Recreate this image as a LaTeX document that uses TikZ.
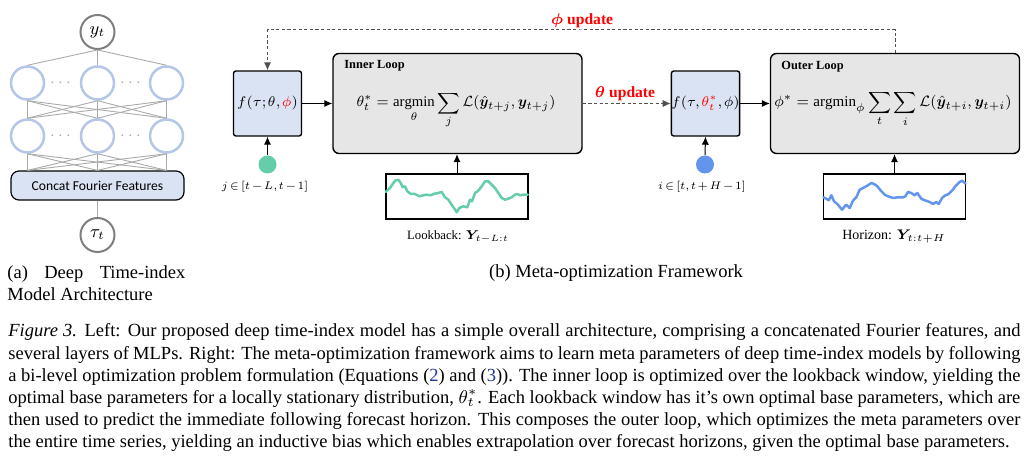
\documentclass[tikz,border=0pt]{standalone}
\usepackage{fix-cm}
\usepackage{amsmath}
\usepackage{graphicx}
\usepackage{fontspec}
\setmainfont{Liberation Serif}
\newfontfamily\calib{Carlito}
\usepackage{bm}
\usetikzlibrary{arrows.meta}
\definecolor{hidblue}{HTML}{B4C7E7}
\definecolor{boxblue}{HTML}{DAE3F3}
\definecolor{loopgray}{HTML}{E6E6E6}
\definecolor{iogray}{HTML}{7F7F7F}
\definecolor{netgray}{HTML}{AAAAAA}
\definecolor{greenc}{HTML}{66CDAA}
\definecolor{bluec}{HTML}{6495ED}
\definecolor{linkblue}{rgb}{0.12,0.2,0.6}
\definecolor{dashgray}{HTML}{505050}
\newcommand{\fs}[1]{\fontsize{#1}{1.2\dimexpr#1\relax}\selectfont}
\newcommand{\tightmath}{\thickmuskip=2.5mu\medmuskip=2mu\thinmuskip=1.5mu}
\begin{document}
\begin{tikzpicture}[x=0.5pt,y=-0.5pt,
  netline/.style={draw=netgray,line width=0.45pt},
  hid/.style={circle,draw=hidblue,line width=1.25pt,minimum size=16.5pt,inner sep=0pt},
  io/.style={circle,draw=iogray,line width=1pt,minimum size=17pt,inner sep=0pt,font=\fs{9pt}},
  dotsn/.style={text=gray!70,inner sep=0pt,font=\fs{7.5pt}},
  concat/.style={draw=black,fill=boxblue,line width=0.6pt,rounded corners=4pt,minimum width=86.5pt,minimum height=14.5pt,inner sep=0pt,font=\calib\fs{6.8pt}},
  fbox/.style={draw=black,fill=boxblue,line width=0.7pt,rounded corners=1.2pt,minimum width=34pt,minimum height=32.5pt,inner sep=0pt,font=\fs{7pt}\tightmath},
  loopbox/.style={draw=black,fill=loopgray,line width=0.7pt,rounded corners=3pt,minimum width=124.5pt,minimum height=50pt,inner sep=0pt},
  looptitle/.style={anchor=west,inner sep=0pt,font=\bfseries\fs{6.2pt}},
  eqn/.style={anchor=base,inner sep=0pt,font=\fs{8pt}},
  dotc/.style={circle,minimum size=9pt,inner sep=0pt},
  lbl/.style={inner sep=0pt,font=\fs{6pt}\tightmath},
  plotlbl/.style={inner sep=0pt,font=\fs{7pt}},
  plotbox/.style={draw=black,line width=0.6pt,minimum width=71pt,minimum height=22.5pt,inner sep=0pt},
  series/.style={line width=1.25pt,line join=round,line cap=round},
  arr/.style={-{Latex[length=4pt,width=3.6pt]},line width=0.5pt,draw=black},
  dasharr/.style={-{Latex[length=4pt,width=3.6pt]},line width=0.5pt,draw=dashgray,dash pattern=on 1.6pt off 1.2pt},
  upd/.style={inner sep=0pt,text=red,font=\bfseries\fs{7.8pt}},
  captext/.style={inner sep=0pt,font=\fs{9.25pt}}
]
\useasboundingbox (0,0) rectangle (1031,459);

% ---------- (a) network ----------
\node[io] (yt) at (97.5,32) {$y_t$};
\node[hid] (a1) at (27.5,83) {};
\node[hid] (a2) at (97.5,83) {};
\node[hid] (a3) at (166.5,83) {};
\node[hid] (b1) at (27.5,136) {};
\node[hid] (b2) at (97.5,136) {};
\node[hid] (b3) at (166.5,136) {};
\node[dotsn] (d1) at (62,83) {$\cdots$};
\node[dotsn] (d2) at (132,83) {$\cdots$};
\node[dotsn] (d3) at (62,136) {$\cdots$};
\node[dotsn] (d4) at (132,136) {$\cdots$};
\node[concat] (cff) at (97.5,185.5) {Concat Fourier Features};
\node[io] (tau) at (97.5,235) {$\tau_t$};
\foreach \i in {1,2,3}{
  \draw[netline] (yt.south) -- (a\i.north);
  \foreach \j in {1,2,3}{
    \draw[netline] (a\i.south) -- (b\j.north);
    \draw[netline] (b\i.south) -- (b\j |- cff.north);
  }
}
\draw[netline] (cff.south) -- (tau.north);

% ---------- (b) framework ----------
\node[fbox] (f1) at (267.5,103.5) {$f(\tau;\theta,\textcolor{red}{\phi})$};
\node[loopbox] (inner) at (457.5,103.5) {};
\node[looptitle] (innert) at (344,66) {Inner Loop};
\node[eqn] (innereq) at (456,107) {\scalebox{0.92}{$\displaystyle \theta^*_t=\operatorname*{argmin}_{\theta}\sum_{j}\mathcal{L}(\hat{\bm y}_{t+j},\bm y_{t+j})$}};
\node[dotc,fill=greenc] (gdot) at (267.5,164.5) {};
\node[lbl] (jl) at (265,187) {\scalebox{0.92}{$j\in[t-L,t-1]$}};
\node[plotbox] (lb) at (457,196.5) {};
\node[plotlbl] (lbt) at (458,237) {\scalebox{0.91}{Lookback: $\bm Y_{t-L:t}$}};

\node[fbox] (f2) at (705.5,103.5) {$f(\tau,\textcolor{red}{\theta^*_t},\phi)$};
\node[loopbox] (outer) at (895,103.5) {};
\node[looptitle] (outert) at (781,67) {Outer Loop};
\node[eqn] (outereq) at (893,107) {\scalebox{0.94}{$\displaystyle \phi^*=\operatorname{argmin}_{\phi}\sum_{t}\sum_{i}\mathcal{L}(\hat{\bm y}_{t+i},\bm y_{t+i})$}};
\node[dotc,fill=bluec] (bdot) at (705,164.5) {};
\node[lbl] (il) at (702,187) {\scalebox{0.92}{$i\in[t,t+H-1]$}};
\node[plotbox] (hz) at (894.5,196.5) {};
\node[plotlbl] (hzt) at (894,237) {Horizon: $\bm Y_{t:t+H}$};

% series
\draw[series,draw=greenc] (385.7,192) -- (390,188) -- (395,180.7) -- (398.3,179.7) -- (400.7,183) -- (402.7,187.3) -- (405,186.3) -- (407.3,191.3) -- (410.7,194) -- (415,194) -- (419.3,196.3) -- (423.3,195.3) -- (426.7,194.7) -- (430.7,195.3) -- (433.3,194) -- (438.3,193) -- (441.7,192) -- (445,197.3) -- (448.3,199.7) -- (451.7,204.7) -- (454,208) -- (456.7,212.3) -- (459.3,208) -- (463.3,206.3) -- (467.3,207.3) -- (470,199.7) -- (472,201.3) -- (475,193) -- (478.3,190.7) -- (481.7,186.3) -- (485,181.3) -- (488.3,181.3) -- (491.7,184.7) -- (495,188) -- (498.3,193) -- (501.7,198) -- (505,199.7) -- (508.3,198.7) -- (511.7,197.3) -- (515,194.7) -- (517.3,194) -- (520,195.3) -- (523.3,194.7) -- (527.7,194.7);
\draw[series,draw=bluec] (823.5,197.3) -- (826.3,198.7) -- (828.7,200.3) -- (831.3,195.3) -- (834,201.3) -- (837.3,204) -- (842,209.7) -- (844.7,206.3) -- (846.3,204.7) -- (849.7,208) -- (853,200.7) -- (856.3,197.3) -- (859.7,189.7) -- (863,188) -- (866.3,186.3) -- (871.3,183) -- (874,184) -- (877.3,186.3) -- (881.3,191.3) -- (884.7,194.7) -- (888,196.3) -- (893,198) -- (898,197.3) -- (903,197.3) -- (905.3,196.3) -- (908,192) -- (911.3,193) -- (914.7,195.3) -- (917.3,193) -- (921.3,198.7) -- (924.7,200.3) -- (929.7,202) -- (933,204) -- (936.3,202) -- (938.7,204) -- (942,198) -- (945.3,195.3) -- (948.7,194) -- (952,190.7) -- (955.3,186.3) -- (959.7,182) -- (962,180.7) -- (965.5,183.5);

% connectors
\draw[arr] (f1.east) -- (f1.east -| inner.west);
\draw[arr] (gdot.north) -- (f1.south);
\draw[arr] (lb.north) -- (lb.north |- inner.south);
\draw[arr] (f2.east) -- (f2.east -| outer.west);
\draw[arr] (bdot.north) -- (f2.south);
\draw[arr] (hz.north) -- (hz.north |- outer.south);
\draw[dasharr] (inner.east) -- (f2.west);
\coordinate (phitop) at (580,30);
\draw[dasharr] (outer.north) |- (phitop) -| (f1.north);
\node[upd] (phiu) at (582,21) {$\bm\phi$ update};
\node[upd] (thu) at (625,94) {$\bm\theta$ update};

% ---------- captions ----------
\node[captext,anchor=north west,text width=89pt,align=justify] (suba) at (7,265) {(a) Deep Time-index\linebreak Model Architecture};
\node[captext,anchor=base] (subb) at (616,278) {(b) Meta-optimization Framework};
\node[captext,anchor=north west,text width=506pt,align=justify] (caption) at (8,323.5) {\hyphenpenalty=10000\exhyphenpenalty=10000
\textit{Figure 3.} Left: Our proposed deep time-index model has a simple overall architecture, comprising a concatenated Fourier features, and\linebreak
several layers of MLPs. Right: The meta-optimization framework aims to learn meta parameters of deep time-index models by following\linebreak
a bi-level optimization problem formulation (Equations (\textcolor{linkblue}{2}) and (\textcolor{linkblue}{3})). The inner loop is optimized over the lookback window, yielding the\linebreak
optimal base parameters for a locally stationary distribution, $\theta^*_t$. Each lookback window has it’s own optimal base parameters, which are\linebreak
then used to predict the immediate following forecast horizon. This composes the outer loop, which optimizes the meta parameters over\linebreak
the entire time series, yielding an inductive bias which enables extrapolation over forecast horizons, given the optimal base parameters.};
\end{tikzpicture}
\end{document}
